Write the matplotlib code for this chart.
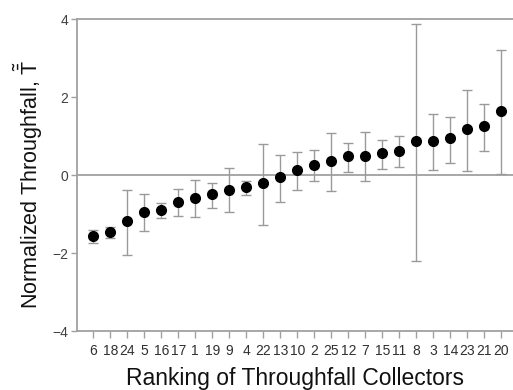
import numpy as np
import matplotlib
matplotlib.use("Agg")
from matplotlib import pyplot as plt

plt.rcParams['font.family'] = ['Liberation Sans', 'DejaVu Sans']
plt.rcParams['mathtext.fontset'] = 'custom'
plt.rcParams['mathtext.rm'] = 'Liberation Sans'

# collector ids in rank order
collectors = ['6', '18', '24', '5', '16', '17', '1', '19', '9', '4', '22', '13', '10',
              '2', '25', '12', '7', '15', '11', '8', '3', '14', '23', '21', '20']
# normalized throughfall (mean) and error bar ends
t_mean = [-1.55, -1.46, -1.18, -0.94, -0.89, -0.68, -0.58, -0.48, -0.38, -0.30, -0.21,
          -0.06, 0.13, 0.27, 0.35, 0.49, 0.49, 0.57, 0.63, 0.87, 0.87, 0.94, 1.17, 1.26, 1.65]
t_upper = [-1.42, -1.34, -0.38, -0.48, -0.71, -0.35, -0.12, -0.19, 0.17, -0.15, 0.80,
           0.52, 0.59, 0.64, 1.07, 0.83, 1.10, 0.91, 0.99, 3.87, 1.56, 1.49, 2.19, 1.83, 3.21]
t_lower = [-1.74, -1.61, -2.04, -1.44, -1.10, -1.05, -1.08, -0.85, -0.94, -0.50, -1.28,
           -0.69, -0.37, -0.15, -0.42, 0.08, -0.15, 0.15, 0.22, -2.19, 0.12, 0.32, 0.10, 0.62, 0.04]

x = np.arange(1, len(collectors) + 1)
mean = np.array(t_mean)
yerr = [mean - np.array(t_lower), np.array(t_upper) - mean]

fig = plt.figure(figsize=(5.13, 3.9), dpi=100)
ax = fig.add_axes([0.150, 0.151, 0.850, 0.800])

grey = '#a0a0a0'
ax.axhline(0, color=grey, lw=1.3, zorder=1)
ax.errorbar(x, mean, yerr=yerr, fmt='none', ecolor='#9a9a9a', elinewidth=1.0,
            capsize=3.8, capthick=1.0, zorder=2)
ax.plot(x, mean, 'o', color='black', ms=7, zorder=3)

ax.set_xlim(0.04, 25.69)
ax.set_ylim(-4, 4)
ax.set_yticks([-4, -2, 0, 2, 4])
ax.set_xticks(x)
ax.set_xticklabels(collectors)

for side in ['left', 'bottom', 'top']:
    ax.spines[side].set_color(grey)
    ax.spines[side].set_linewidth(1.3)
ax.spines['right'].set_visible(False)

ax.tick_params(axis='y', direction='out', length=4, width=1, color=grey,
               labelsize=10, labelcolor='#404040', pad=2)
ax.tick_params(axis='x', direction='out', length=5, width=1, color=grey,
               labelsize=10, labelcolor='#303030', pad=4)

ax.set_xlabel('Ranking of Throughfall Collectors', fontsize=16.5, color='#111111', labelpad=7)
ax.set_ylabel(r'Normalized Throughfall, $\tilde{\bar{\mathrm{T}}}$', fontsize=15.5,
              color='#111111')
ax.yaxis.set_label_coords(-0.073, 0.47)

fig.savefig('out.png', dpi=100)
